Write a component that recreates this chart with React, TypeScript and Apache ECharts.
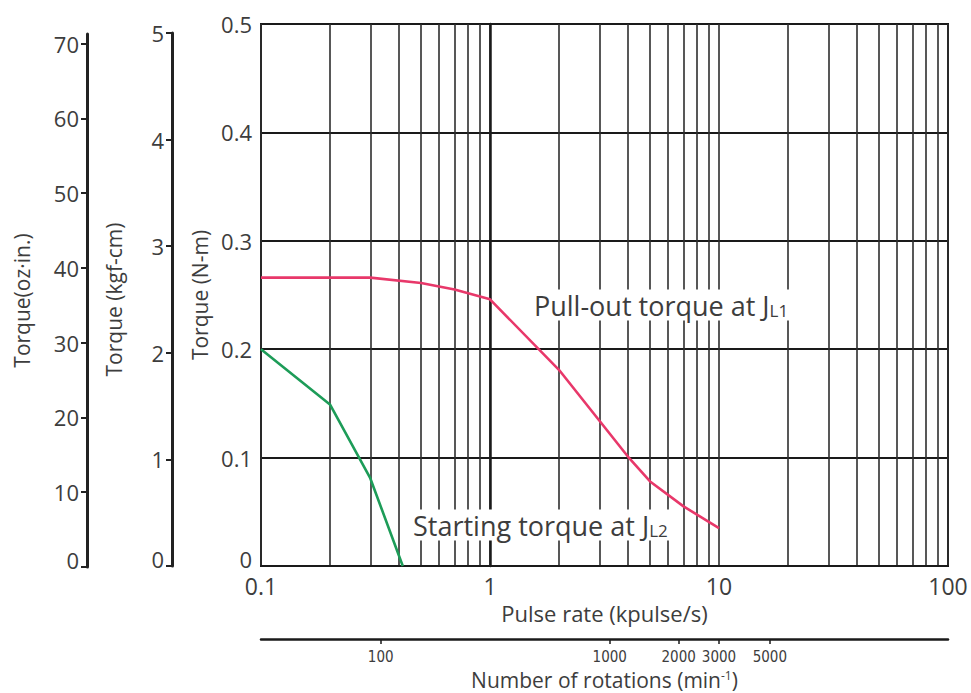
import React, { useEffect, useRef } from "react";
import * as echarts from "echarts";

// Pulse-rate grid values (kpulse/s) for the vertical log grid lines
const pulseGridValues = [
  0.1, 0.2, 0.3, 0.4, 0.5, 0.6, 0.7, 0.8, 0.9,
  1, 2, 3, 4, 5, 6, 7, 8, 9,
  10, 20, 30, 40, 50, 60, 70, 80, 90, 100,
];

// Pull-out torque at JL1 (N-m) vs pulse rate (kpulse/s)
const pullOutRate = [0.1, 0.3, 0.5, 0.7, 1, 2, 4, 5, 7, 10];
const pullOutTorque = [0.266, 0.266, 0.261, 0.255, 0.246, 0.181, 0.101, 0.078, 0.055, 0.035];

// Starting torque at JL2 (N-m) vs pulse rate (kpulse/s)
const startRate = [0.1, 0.2, 0.3, 0.416];
const startTorque = [0.2, 0.149, 0.081, 0];

// Secondary scales
const kgfTicks = [0, 1, 2, 3, 4, 5];
const ozTicks = [0, 10, 20, 30, 40, 50, 60, 70];
const rpmTicks = [100, 1000, 2000, 3000, 5000];
const rpmRange = [30, 30000]; // 0.1 kpulse/s .. 100 kpulse/s at 200 steps/rev

const FONT = "'Open Sans', 'Liberation Sans', Arial, sans-serif";
const TXT = "#3d3d3d";
const RED = "#e8386a";
const GREEN = "#1d9c58";

export default function App() {
  const ref = useRef<HTMLDivElement>(null);

  useEffect(() => {
    if (!ref.current) return;
    const chart = echarts.init(ref.current, undefined, { renderer: "svg" });

    const pullData = pullOutRate.map((x, i) => [x, pullOutTorque[i]]);
    const startData = startRate.map((x, i) => [x, startTorque[i]]);

    const zeroRich = {
      z: { fontSize: 22, color: TXT, fontFamily: FONT, padding: [0, 0, 14, 0] },
    };
    const zeroFmt = (v: number) => (v === 0 ? "{z|0}" : String(v));
    const tickLabel = { color: TXT, fontSize: 22, fontFamily: FONT, formatter: zeroFmt, rich: zeroRich };
    const nameStyle = { color: TXT, fontSize: 21, fontFamily: FONT };

    chart.setOption({
      animation: false,
      backgroundColor: "#ffffff",
      textStyle: { fontFamily: FONT },
      grid: [
        { left: 261, top: 24, width: 687, height: 542, show: true, borderColor: "#1a1a1a", borderWidth: 2, backgroundColor: "transparent" },
        { left: 172, top: 33, width: 10, height: 533 },
        { left: 87, top: 34, width: 10, height: 533 },
        { left: 261, top: 638, width: 687, height: 1 },
      ],
      xAxis: [
        {
          type: "log",
          logBase: 10,
          gridIndex: 0,
          min: 0.1,
          max: 100,
          axisLine: { show: true, lineStyle: { color: "#1a1a1a", width: 2 } },
          axisTick: { show: false },
          axisLabel: { color: TXT, fontFamily: FONT, margin: 8, fontSize: 23 },
          splitLine: { show: false },
          name: "Pulse rate (kpulse/s)",
          nameLocation: "middle",
          nameGap: 28,
          nameTextStyle: { ...nameStyle, fontSize: 22 },
        },
        {
          type: "value",
          gridIndex: 0,
          min: Math.log10(pulseGridValues[0]),
          max: Math.log10(pulseGridValues[pulseGridValues.length - 1]),
          position: "top",
          axisLine: { show: false },
          axisTick: { show: false, customValues: pulseGridValues.map((v) => Math.log10(v)) },
          axisLabel: { show: false },
          splitLine: { show: true, lineStyle: { color: "#2e2e2e", width: 1.6 } },
        },
        { type: "value", gridIndex: 1, show: false },
        { type: "value", gridIndex: 2, show: false },
        {
          type: "value",
          gridIndex: 3,
          min: Math.log10(rpmRange[0]),
          max: Math.log10(rpmRange[1]),
          position: "bottom",
          axisLine: { show: true, lineStyle: { color: "#1a1a1a", width: 2.5 } },
          axisTick: {
            show: true,
            length: 5,
            lineStyle: { color: "#1a1a1a", width: 1.5 },
            customValues: rpmTicks.map((v) => Math.log10(v)),
          },
          axisLabel: {
            customValues: rpmTicks.map((v) => Math.log10(v)),
            formatter: (v: number) => String(Math.round(Math.pow(10, v))),
            color: TXT,
            fontSize: 15,
            fontFamily: "'Liberation Sans Narrow', 'DejaVu Sans Condensed', 'Liberation Sans', sans-serif",
            margin: 10,
          },
          splitLine: { show: false },
          name: "Number of rotations (min{sup|-1})",
          nameLocation: "middle",
          nameGap: 30,
          nameTextStyle: {
            ...nameStyle,
            fontSize: 21,
            rich: {
              sup: { fontSize: 12, color: TXT, fontFamily: FONT, verticalAlign: "top", padding: [0, 0, 8, 0] },
            },
          },
        },
      ],
      yAxis: [
        {
          type: "value",
          gridIndex: 0,
          min: 0,
          max: 0.5,
          interval: 0.1,
          axisLine: { show: true, lineStyle: { color: "#1a1a1a", width: 2.5 } },
          axisTick: { show: false },
          axisLabel: { ...tickLabel, margin: 9 },
          splitLine: { show: true, lineStyle: { color: "#1a1a1a", width: 2.2 } },
          name: "Torque (N-m)",
          nameLocation: "middle",
          nameGap: 48,
          nameTextStyle: nameStyle,
        },
        {
          type: "value",
          gridIndex: 1,
          min: 0,
          max: kgfTicks[kgfTicks.length - 1],
          interval: 1,
          axisLine: { show: true, lineStyle: { color: "#222", width: 3 } },
          axisTick: { show: true, length: 6, lineStyle: { color: "#222", width: 2 } },
          axisLabel: { ...tickLabel, margin: 8 },
          splitLine: { show: false },
          name: "Torque (kgf-cm)",
          nameLocation: "middle",
          nameGap: 48,
          nameTextStyle: nameStyle,
        },
        {
          type: "value",
          gridIndex: 2,
          min: 0,
          max: 71.3,
          axisLine: { show: true, lineStyle: { color: "#222", width: 3 } },
          axisTick: { show: true, length: 6, lineStyle: { color: "#222", width: 2 }, customValues: ozTicks },
          axisLabel: { ...tickLabel, margin: 8, customValues: ozTicks },
          splitLine: { show: false },
          name: "Torque(oz·in.)",
          nameLocation: "middle",
          nameGap: 55,
          nameTextStyle: nameStyle,
        },
        { type: "value", gridIndex: 3, show: false },
      ],
      series: [
        {
          type: "line",
          name: "Pull-out torque at JL1",
          xAxisIndex: 0,
          yAxisIndex: 0,
          data: pullData,
          symbol: "none",
          lineStyle: { color: RED, width: 2.6 },
          z: 5,
        },
        {
          type: "line",
          name: "Starting torque at JL2",
          xAxisIndex: 0,
          yAxisIndex: 0,
          data: startData,
          symbol: "none",
          lineStyle: { color: GREEN, width: 2.6 },
          z: 5,
        },
      ],
      graphic: [
        {
          type: "text",
          x: 532,
          y: 305,
          z: 50,
          style: {
            text: "Pull-out torque at J{s|L1}",
            fill: TXT,
            fontSize: 27,
            fontFamily: FONT,
            verticalAlign: "middle",
            align: "left",
            backgroundColor: "#ffffff",
            padding: [2, 4, 2, 2],
            rich: { s: { fontSize: 17, fill: TXT, fontFamily: FONT, verticalAlign: "bottom" } },
          },
        },
        {
          type: "text",
          x: 411,
          y: 525,
          z: 50,
          style: {
            text: "Starting torque at J{s|L2}",
            fill: TXT,
            fontSize: 27,
            fontFamily: FONT,
            verticalAlign: "middle",
            align: "left",
            backgroundColor: "#ffffff",
            padding: [2, 4, 2, 2],
            rich: { s: { fontSize: 17, fill: TXT, fontFamily: FONT, verticalAlign: "bottom" } },
          },
        },
      ],
    });

    return () => chart.dispose();
  }, []);

  return (
    <div
      ref={ref}
      style={{ position: "absolute", left: 0, top: 0, width: 971, height: 693, background: "#fff" }}
    />
  );
}
